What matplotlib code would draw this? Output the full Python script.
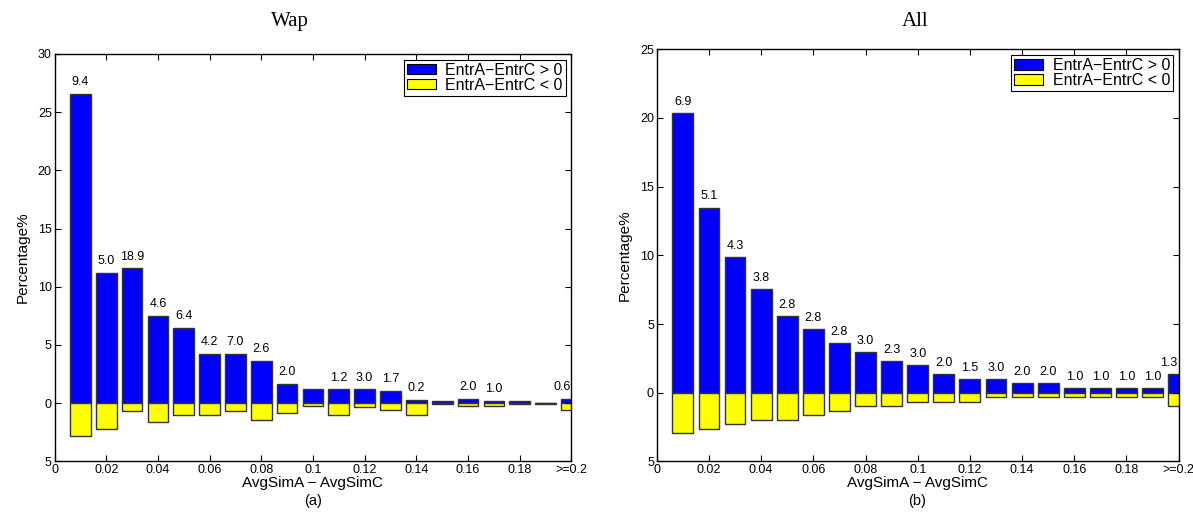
import matplotlib
matplotlib.use("Agg")
import matplotlib.pyplot as plt
import numpy as np
from matplotlib.patches import Patch

plt.rcParams['font.family'] = ['Liberation Sans', 'DejaVu Sans']

# bin centres (AvgSimA - AvgSimC), last bin is ">=0.2"
bins = [0.01, 0.02, 0.03, 0.04, 0.05, 0.06, 0.07, 0.08, 0.09, 0.10,
        0.11, 0.12, 0.13, 0.14, 0.15, 0.16, 0.17, 0.18, 0.19, 0.20]
xtick_vals = [0, 0.02, 0.04, 0.06, 0.08, 0.1, 0.12, 0.14, 0.16, 0.18, 0.2]
xtick_labels = ['0', '0.02', '0.04', '0.06', '0.08', '0.1', '0.12', '0.14',
                '0.16', '0.18', '>=0.2']

# Wap
wap_pos = [26.6, 11.2, 11.6, 7.5, 6.5, 4.25, 4.25, 3.65, 1.65, 1.2,
           1.2, 1.2, 1.05, 0.28, 0.2, 0.4, 0.2, 0.2, 0.05, 0.4]
wap_neg = [-2.85, -2.25, -0.63, -1.65, -1.03, -1.03, -0.63, -1.43, -0.85, -0.23,
           -1.0, -0.37, -0.6, -1.0, -0.05, -0.2, -0.2, -0.05, -0.05, -0.6]
wap_text = ['9.4', '5.0', '18.9', '4.6', '6.4', '4.2', '7.0', '2.6', '2.0', '',
            '1.2', '3.0', '1.7', '0.2', '', '2.0', '1.0', '', '', '0.6']

# All
all_pos = [20.35, 13.45, 9.86, 7.53, 5.56, 4.61, 3.6, 2.94, 2.29, 1.99,
           1.34, 0.97, 0.97, 0.68, 0.68, 0.32, 0.32, 0.32, 0.32, 1.34]
all_neg = [-2.96, -2.64, -2.3, -1.99, -1.99, -1.65, -1.31, -0.99, -0.99, -0.65,
           -0.65, -0.65, -0.34, -0.34, -0.34, -0.34, -0.34, -0.34, -0.34, -0.99]
all_text = ['6.9', '5.1', '4.3', '3.8', '2.8', '2.8', '2.8', '3.0', '2.3', '3.0',
            '2.0', '1.5', '3.0', '2.0', '2.0', '1.0', '1.0', '1.0', '1.0', '1.3']

series_labels = ['EntrA\u2212EntrC > 0', 'EntrA\u2212EntrC < 0']


def draw_panel(ax, pos, neg, texts, ymax):
    ax.bar(bins, pos, width=0.008, color='#0000ff', edgecolor='#333333', lw=1.0)
    ax.bar(bins, neg, width=0.008, color='#ffff00', edgecolor='#333333', lw=1.0)
    n = len(bins)
    for i, (x, h, t) in enumerate(zip(bins, pos, texts)):
        if not t:
            continue
        dx = -7 if i == n - 1 else 0
        ax.annotate(t, (x, h), xytext=(dx, 4), textcoords='offset points',
                    ha='center', va='bottom', fontsize=9, annotation_clip=False)
    ax.set_xlim(0, 0.2)
    ax.set_ylim(-5, ymax)
    yt = np.arange(-5, ymax + 1, 5)
    ax.set_yticks(yt)
    ax.set_yticklabels([str(abs(v)) for v in yt])
    ax.set_xticks(xtick_vals)
    ax.set_xticklabels(xtick_labels)
    ax.tick_params(direction='in', top=True, right=True, labelsize=9, length=4,
                   width=0.8, pad=2)
    for s in ax.spines.values():
        s.set_linewidth(1.0)
    ax.set_xlabel('AvgSimA \u2212 AvgSimC', fontsize=11, labelpad=0)
    ax.set_ylabel('Percentage%', fontsize=11, labelpad=6)
    handles = [Patch(facecolor='#0000ff', edgecolor='black', lw=0.8),
               Patch(facecolor='#ffff00', edgecolor='black', lw=0.8)]
    leg = ax.legend(handles, series_labels, loc='upper right', fontsize=11.5,
                    fancybox=False, framealpha=1, edgecolor='black',
                    handlelength=1.8, handleheight=0.65, borderpad=0.2,
                    labelspacing=0.0, handletextpad=0.6, borderaxespad=0.35)
    leg.get_frame().set_linewidth(0.8)


fig = plt.figure(figsize=(11.93, 5.19), dpi=100)
ax1 = fig.add_axes([0.0457, 0.111, 0.4333, 0.785])
ax2 = fig.add_axes([0.5505, 0.111, 0.4375, 0.794])

draw_panel(ax1, wap_pos, wap_neg, wap_text, 30)
draw_panel(ax2, all_pos, all_neg, all_text, 25)

fig.text(0.243, 0.958, 'Wap', ha='center', va='center',
         fontsize=15, family='Liberation Serif')
fig.text(0.767, 0.958, 'All', ha='center', va='center',
         fontsize=15, family='Liberation Serif')
fig.text(0.262, 0.035, '(a)', ha='center', va='center', fontsize=10.5)
fig.text(0.769, 0.035, '(b)', ha='center', va='center', fontsize=10.5)

fig.savefig('out.png', dpi=100)
